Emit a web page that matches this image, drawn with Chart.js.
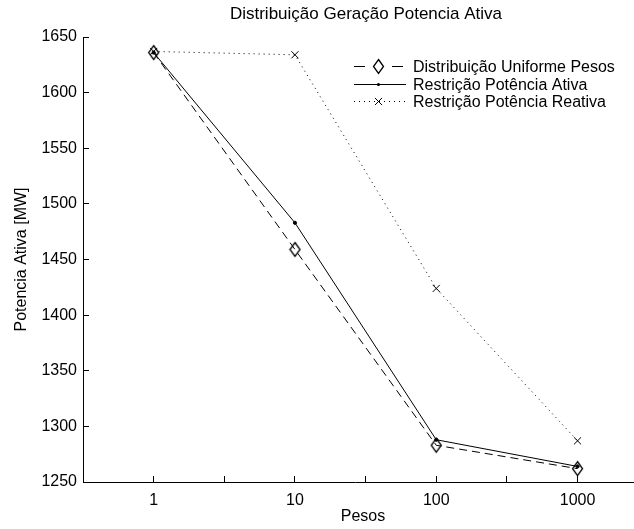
<!DOCTYPE html>
<html>
<head>
<meta charset="utf-8">
<script src="https://cdn.jsdelivr.net/npm/chart.js@4"></script>
<style>html, body { margin: 0; padding: 0; background: #fff; }</style>
</head>
<body>
<canvas id="chart" width="634" height="529"></canvas>
<script>
/*global Chart */
const pesos = ['1', '10', '100', '1000']
const uniforme = [1636, 1459, 1283, 1262]
const potenciaAtiva = [1636, 1483, 1288, 1264]
const potenciaReativa = [1637, 1634, 1424, 1287]
const yTicks = [1250, 1300, 1350, 1400, 1450, 1500, 1550, 1600, 1650]
const xTicks = [0.5, 1, 1.5, 2, 2.5, 3, 3.5, 4]

const FONT = '"Liberation Sans", Arial, Helvetica, sans-serif'
Chart.defaults.font.family = FONT
Chart.defaults.color = '#000'

const toPoints = values => values.map((y, i) => ({ x: i + 1, y }))

// tall matlab style diamond
const makeDiamond = () => {
  const c = document.createElement('canvas')
  c.width = 13
  c.height = 17
  const g = c.getContext('2d')
  g.strokeStyle = '#000'
  g.lineWidth = 1.3
  g.beginPath()
  g.moveTo(6.5, 1.5)
  g.lineTo(11.5, 8.5)
  g.lineTo(6.5, 15.5)
  g.lineTo(1.5, 8.5)
  g.closePath()
  g.stroke()
  return c
}
const diamond = makeDiamond()

const drawMarker = (ctx, ds, x, y) => {
  ctx.save()
  ctx.strokeStyle = '#000'
  ctx.fillStyle = '#000'
  ctx.lineWidth = 1
  if (ds.pointStyle === diamond) {
    ctx.drawImage(diamond, Math.round(x - diamond.width / 2), Math.round(y - diamond.height / 2))
  } else if (ds.pointStyle === 'circle') {
    ctx.beginPath()
    ctx.arc(x, y, ds.pointRadius, 0, Math.PI * 2)
    ctx.fill()
  } else if (ds.pointStyle === 'crossRot') {
    const d = Math.cos(Math.PI / 4) * ds.pointRadius
    ctx.beginPath()
    ctx.moveTo(x - d, y - d); ctx.lineTo(x + d, y + d)
    ctx.moveTo(x - d, y + d); ctx.lineTo(x + d, y - d)
    ctx.stroke()
  }
  ctx.restore()
}

const matlabText = {
  id: 'matlabText',
  afterDraw(chart) {
    const ctx = chart.ctx
    ctx.save()
    ctx.fillStyle = '#000'
    ctx.textBaseline = 'middle'
    ctx.textAlign = 'center'
    ctx.font = `17px ${FONT}`
    ctx.fillText('Distribuição Geração Potencia Ativa', 366, 14)
    ctx.font = `16px ${FONT}`
    ctx.fillText('Pesos', 363, 517)

    // x axis runs on to the edge of the figure
    ctx.strokeStyle = '#000'
    ctx.lineWidth = 1
    ctx.beginPath()
    ctx.moveTo(chart.chartArea.right, Math.round(chart.chartArea.bottom) + 0.5)
    ctx.lineTo(chart.width, Math.round(chart.chartArea.bottom) + 0.5)
    ctx.stroke()

    ctx.textAlign = 'left'
    chart.data.datasets.forEach((ds, i) => {
      const y = Math.round(66 + i * 17.5) + 0.5
      ctx.setLineDash(ds.legendDash || [])
      ctx.beginPath()
      ctx.moveTo(354, y)
      ctx.lineTo(406, y)
      ctx.stroke()
      ctx.setLineDash([])
      drawMarker(ctx, ds, 378.5, y)
      ctx.fillText(ds.label, 413, y + 1)
    })
    ctx.restore()
  }
}

new Chart(document.getElementById('chart'), {
  type: 'line',
  data: {
    datasets: [
      {
        label: 'Distribuição Uniforme Pesos',
        data: toPoints(uniforme),
        borderColor: '#000',
        borderWidth: 1,
        borderDash: [8, 5],
        legendDash: [11, 27],
        pointStyle: diamond,
        pointRadius: 6,
      },
      {
        label: 'Restrição Potência Ativa',
        data: toPoints(potenciaAtiva),
        borderColor: '#000',
        backgroundColor: '#000',
        borderWidth: 1,
        pointStyle: 'circle',
        pointRadius: 1.6,
      },
      {
        label: 'Restrição Potência Reativa',
        data: toPoints(potenciaReativa),
        borderColor: '#000',
        borderWidth: 1,
        borderDash: [1, 4],
        legendDash: [1, 4],
        pointStyle: 'crossRot',
        pointRadius: 5,
      },
    ],
  },
  options: {
    responsive: false,
    animation: false,
    events: [],
    layout: { padding: { top: 37, right: 0, left: 0, bottom: 0 } },
    plugins: { legend: { display: false }, title: { display: false }, tooltip: { enabled: false } },
    elements: { line: { tension: 0 } },
    scales: {
      x: {
        type: 'linear',
        min: 0.5,
        max: 4.35,
        afterFit: scale => { scale.height = 47 },
        afterBuildTicks: scale => { scale.ticks = xTicks.map(value => ({ value })) },
        grid: { drawOnChartArea: false, tickLength: -6, color: '#000' },
        border: { color: '#000', width: 1 },
        ticks: {
          padding: 14.5,
          autoSkip: false,
          maxRotation: 0,
          font: { size: 16 },
          callback: value => Number.isInteger(value) ? pesos[value - 1] : '',
        },
      },
      y: {
        min: 1250,
        max: 1650,
        afterFit: scale => { scale.width = 83 },
        afterBuildTicks: scale => { scale.ticks = yTicks.map(value => ({ value })) },
        grid: { drawOnChartArea: false, tickLength: -6, color: '#000' },
        border: { color: '#000', width: 1 },
        ticks: { padding: 12, font: { size: 16 }, callback: value => String(value) },
        title: {
          display: true,
          text: 'Potencia Ativa [MW]',
          font: { size: 16 },
          padding: { top: 12, bottom: 0 },
        },
      },
    },
  },
  plugins: [matlabText],
})
</script>
</body>
</html>
